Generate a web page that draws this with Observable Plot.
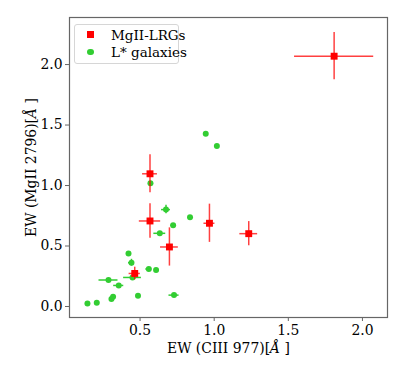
<!DOCTYPE html>
<html>
<head>
<meta charset="utf-8">
<script src="https://cdn.jsdelivr.net/npm/d3@7"></script>
<script src="https://cdn.jsdelivr.net/npm/@observablehq/plot@0.6"></script>
<style>
  html, body { margin: 0; padding: 0; background: #fff; }
  #wrap { position: relative; width: 407px; height: 378px; font-family: "DejaVu Serif", serif; }
  #legend { position: absolute; left: 74px; top: 24px; width: 103px; height: 38px;
            border: 1px solid #d6d6d6; border-radius: 3px; background: rgba(255,255,255,0.85);
            font-size: 13.5px; color: #000; }
  .row { position: absolute; left: 0; height: 16px; line-height: 16px; white-space: nowrap; }
  .sym { position: absolute; }
  .lab { position: absolute; left: 36px; top: 0; }
</style>
</head>
<body>
<div id="wrap"><div id="chart"></div><div id="legend"></div></div>
<script>
// MgII-LRGs
const lrgX    = [1.809, 0.567, 0.567, 0.698, 0.968, 1.233, 0.464];
const lrgY    = [2.069, 1.097, 0.707, 0.492, 0.688, 0.602, 0.273];
const lrgXerr = [0.267, 0.050, 0.072, 0.060, 0.037, 0.060, 0.038];
const lrgYerr = [0.195, 0.157, 0.143, 0.158, 0.158, 0.100, 0.052];
// L* galaxies
const lgX    = [0.943, 1.018, 0.570, 0.675, 0.837, 0.723, 0.633, 0.422, 0.442, 0.559, 0.608, 0.287, 0.449, 0.356, 0.318, 0.307, 0.486, 0.729, 0.145, 0.208];
const lgY    = [1.428, 1.326, 1.019, 0.801, 0.737, 0.671, 0.605, 0.439, 0.362, 0.310, 0.302, 0.219, 0.240, 0.174, 0.080, 0.061, 0.089, 0.094, 0.025, 0.031];
const lgXerr = [0, 0, 0, 0.030, 0, 0.015, 0.040, 0, 0.020, 0.020, 0, 0.064, 0.060, 0.034, 0.010, 0, 0, 0.034, 0, 0];
const lgYerr = [0, 0, 0, 0.035, 0, 0, 0, 0, 0.028, 0, 0, 0, 0, 0, 0, 0, 0, 0, 0, 0];

const seriesNames = ["MgII-LRGs", "L* galaxies"];
const seriesColors = ["#ff0000", "#32cd32"];
const xTicks = [0.5, 1.0, 1.5, 2.0];
const yTicks = [0.0, 0.5, 1.0, 1.5, 2.0];
const xLabel = "EW (CIII 977)[Å ]";
const yLabel = "EW (MgII 2796)[Å ]";

const lrg = lrgX.map((x, i) => ({x, y: lrgY[i], xe: lrgXerr[i], ye: lrgYerr[i]}));
const lg = lgX.map((x, i) => ({x, y: lgY[i], xe: lgXerr[i], ye: lgYerr[i]}));
const lgH = lg.filter(d => d.xe > 0);
const lgV = lg.filter(d => d.ye > 0);

const fmt = d3.format(".1f");

const chart = Plot.plot({
  width: 407,
  height: 378,
  marginLeft: 69,
  marginRight: 20,
  marginTop: 17,
  marginBottom: 61,
  style: {fontFamily: "DejaVu Serif", fontSize: "13.9px", color: "#000", background: "transparent"},
  x: {domain: [0.024, 2.169]},
  y: {domain: [-0.091, 2.389]},
  marks: [
    Plot.ruleY(lgH, {y: "y", x1: d => d.x - d.xe, x2: d => d.x + d.xe, stroke: seriesColors[1], strokeWidth: 1.5}),
    Plot.ruleX(lgV, {x: "x", y1: d => d.y - d.ye, y2: d => d.y + d.ye, stroke: seriesColors[1], strokeWidth: 1.5}),
    Plot.dot(lg, {x: "x", y: "y", r: 3, fill: seriesColors[1], stroke: "none"}),
    Plot.ruleY(lrg, {y: "y", x1: d => d.x - d.xe, x2: d => d.x + d.xe, stroke: seriesColors[0], strokeOpacity: 0.75, strokeWidth: 1.5}),
    Plot.ruleX(lrg, {x: "x", y1: d => d.y - d.ye, y2: d => d.y + d.ye, stroke: seriesColors[0], strokeOpacity: 0.75, strokeWidth: 1.5}),
    Plot.dot(lrg, {x: "x", y: "y", symbol: "square", r: 3.9, fill: seriesColors[0], stroke: "none"}),
    Plot.frame({stroke: "#666", strokeWidth: 1.2}),
    Plot.axisX({ticks: xTicks, tickFormat: fmt, tickSize: 4, tickPadding: 4, stroke: "#666",
                label: xLabel, labelAnchor: "center", labelOffset: 35, labelArrow: "none"}),
    Plot.axisY({ticks: yTicks, tickFormat: fmt, tickSize: 4, tickPadding: 3, stroke: "#666",
                label: yLabel, labelAnchor: "center", labelOffset: 43, labelArrow: "none"})
  ]
});

// strip any arrow and italicise Å in the axis labels
chart.querySelectorAll("text").forEach(t => {
  let s = t.textContent;
  if (s.includes("Å") && t.children.length === 0) {
    s = s.replace(/\s*[→↑←↓]\s*/g, "").replace(/^[→↑←↓]\s*/, "");
    const i = s.indexOf("Å");
    t.textContent = "";
    const parts = [[s.slice(0, i), false], ["Å", true], [s.slice(i + 1), false]];
    for (const [txt, it] of parts) {
      const ts = document.createElementNS("http://www.w3.org/2000/svg", "tspan");
      ts.textContent = txt;
      if (it) ts.setAttribute("font-style", "italic");
      t.appendChild(ts);
    }
  }
});
document.getElementById("chart").appendChild(chart);

// legend
const legend = document.getElementById("legend");
seriesNames.forEach((name, i) => {
  const row = document.createElement("div");
  row.className = "row";
  row.style.top = (2 + i * 17) + "px";
  const sym = document.createElement("div");
  sym.className = "sym";
  if (i === 0) {
    sym.style.cssText = `left:12px;top:4px;width:7px;height:7px;background:${seriesColors[i]}`;
  } else {
    sym.style.cssText = `left:12px;top:4.5px;width:6.5px;height:6.5px;border-radius:50%;background:${seriesColors[i]}`;
  }
  const lab = document.createElement("span");
  lab.className = "lab";
  lab.textContent = name;
  row.appendChild(sym);
  row.appendChild(lab);
  legend.appendChild(row);
});
</script>
</body>
</html>
